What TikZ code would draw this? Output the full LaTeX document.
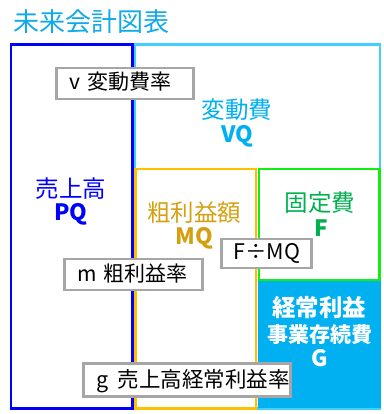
\documentclass[tikz,border=0pt]{standalone}
\usepackage{fontspec}
\setmainfont{Noto Sans CJK JP}
\definecolor{titlecol}{HTML}{10AAE6}
\definecolor{vqline}{HTML}{40CFFF}
\definecolor{vqtext}{HTML}{00B0F0}
\definecolor{pqblue}{HTML}{0000FF}
\definecolor{mqline}{HTML}{FFC000}
\definecolor{mqtext}{HTML}{D4A012}
\definecolor{fline}{HTML}{11EE11}
\definecolor{ftext}{HTML}{00B050}
\definecolor{gfill}{HTML}{00B0F0}
\definecolor{boxgray}{HTML}{A6A6A6}
\tikzset{
  frame/.style={line width=2.6pt},
  lbl/.style={inner sep=0pt, anchor=center, font=\fontsize{23.5}{27}\selectfont},
  sym/.style={lbl, font=\fontsize{22.5}{26}\selectfont\bfseries},
  ratebox/.style={draw=boxgray, line width=2.8pt, fill=white, inner xsep=13pt, inner ysep=0pt,
    anchor=center, font=\fontsize{21}{24}\selectfont},
}
\begin{document}
\begin{tikzpicture}[x=1pt,y=-1pt]
\useasboundingbox (0,0) rectangle (383,414);
% frames
\draw[frame, draw=vqline] (135,44.5) rectangle (380,408.5);
\draw[frame, draw=pqblue] (11,44.5) rectangle (132.5,408.5);
\draw[frame, draw=mqline] (135.5,169) rectangle (256,408.5);
\fill[gfill] (257.5,280) rectangle (381,408);
\draw[frame, draw=fline] (259,169) rectangle (379.5,280);
% title
\node[anchor=west, inner sep=0pt, text=titlecol, font=\fontsize{26}{30}\selectfont] (title) at (13,22) {未来会計図表};
% labels
\node[lbl, text=vqtext] (vqname) at (237,110) {変動費};
\node[sym, text=vqtext] (vqsym) at (237,136) {VQ};
\node[lbl, text=pqblue] (pqname) at (71,189) {売上高};
\node[sym, text=pqblue] (pqsym) at (71,214) {PQ};
\node[lbl, text=mqtext] (mqname) at (194,213) {粗利益額};
\node[sym, text=mqtext] (mqsym) at (194.5,238) {MQ};
\node[lbl, text=ftext] (fname) at (320,203) {固定費};
\node[sym, text=ftext] (fsym) at (321,228) {F};
\node[lbl, text=white, font=\fontsize{23.5}{27}\selectfont\bfseries] (gname) at (319,308) {経常利益};
\node[lbl, text=white, font=\fontsize{21}{24}\selectfont\bfseries] (gname2) at (320,335) {事業存続費};
\node[sym, text=white] (gsym) at (320,358) {G};
% rate boxes
\node[ratebox] (vbox) at (125,83.5) {\makebox[111pt][l]{v\hspace{0.32em}変動費率}\rule[-9pt]{0pt}{31pt}};
\node[ratebox, inner xsep=12pt, font=\fontsize{21.5}{24}\selectfont] (fmq) at (266.5,253.5) {\makebox[66pt][l]{F÷MQ}\rule[-8.5pt]{0pt}{29pt}};
\node[ratebox] (mbox) at (133.5,274.5) {\makebox[112pt][l]{m\hspace{0.32em}粗利益率}\rule[-9pt]{0pt}{31pt}};
\node[ratebox, font=\fontsize{21.5}{26}\selectfont] (gbox) at (187,380) {\makebox[181pt][l]{g\hspace{0.42em}売上高経常利益率}\rule[-9.5pt]{0pt}{33pt}};
\end{tikzpicture}
\end{document}
